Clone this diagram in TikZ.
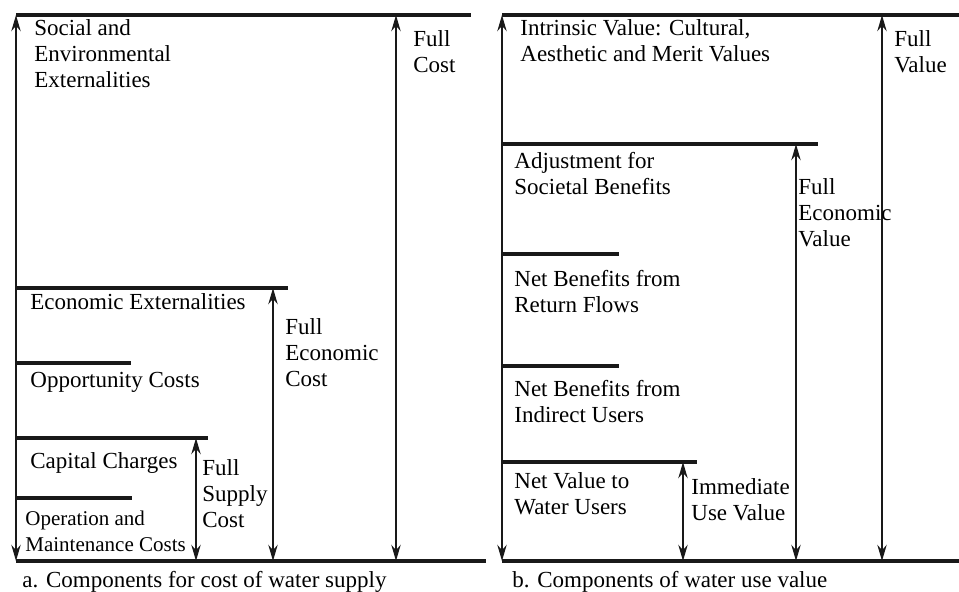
\documentclass[tikz,border=0pt]{standalone}
\usepackage{fontspec}
\setmainfont{Liberation Serif}
\usepackage{tikz}
\usetikzlibrary{arrows.meta, positioning}

\begin{document}
\begin{tikzpicture}[
    x=0.5pt, y=-0.5pt,
    bar/.style={line width=2pt, draw=black!90},
    span/.style={
        {Stealth[length=8pt, width=4.6pt, inset=2.6pt]}-{Stealth[length=8pt, width=4.6pt, inset=2.6pt]},
        line width=1.3pt, draw=black!90
    },
    lbl/.style={
        anchor=north west, inner sep=0pt, align=left,
        font=\fontsize{11.5}{13}\selectfont
    },
    caption/.style={anchor=north west, inner sep=0pt, font=\fontsize{11.5}{13}\selectfont}
]
    \useasboundingbox (0,0) rectangle (959,591);

    % cost of water supply
    \coordinate (c0) at (16,15);   \coordinate (c0e) at (471,15);
    \coordinate (c1) at (16,288);  \coordinate (c1e) at (288,288);
    \coordinate (c2) at (16,363);  \coordinate (c2e) at (131,363);
    \coordinate (c3) at (16,438);  \coordinate (c3e) at (208,438);
    \coordinate (c4) at (16,498);  \coordinate (c4e) at (132,498);
    \coordinate (cb) at (16,561);  \coordinate (cbe) at (486,561);

    \draw[bar] (c0) -- (c0e);
    \draw[bar] (c1) -- (c1e);
    \draw[bar] (c2) -- (c2e);
    \draw[bar] (c3) -- (c3e);
    \draw[bar] (c4) -- (c4e);
    \draw[bar] (cb) -- (cbe);

    \draw[span] (c0) -- (cb);
    \draw[span] (c0 -| 396,0) -- (cb -| 396,0);
    \draw[span] (c1 -| 273,0) -- (cb -| 273,0);
    \draw[span] (c3 -| 196,0) -- (cb -| 196,0);

    \node[lbl] (social) at (34,19) {Social and\\Environmental\\Externalities};
    \node[lbl] (fullcost) at (413,30) {Full\\Cost};
    \node[lbl] (econext) at (30,293) {Economic Externalities};
    \node[lbl] (fullecost) at (285,318) {Full\\Economic\\Cost};
    \node[lbl] (opp) at (30,372) {Opportunity Costs};
    \node[lbl] (capital) at (30,452) {Capital Charges};
    \node[lbl] (fullsupply) at (202,459) {Full\\Supply\\Cost};
    \node[lbl, font=\fontsize{10.5}{13}\selectfont] (om) at (25,511) {Operation and\\Maintenance Costs};
    \node[caption] (capa) at (22,571) {a. Components for cost of water supply};

    % water use value
    \coordinate (v0) at (502,15);  \coordinate (v0e) at (959,15);
    \coordinate (v1) at (502,144); \coordinate (v1e) at (818,144);
    \coordinate (v2) at (502,254); \coordinate (v2e) at (619,254);
    \coordinate (v3) at (502,366); \coordinate (v3e) at (619,366);
    \coordinate (v4) at (502,462); \coordinate (v4e) at (697,462);
    \coordinate (vb) at (502,561); \coordinate (vbe) at (959,561);

    \draw[bar] (v0) -- (v0e);
    \draw[bar] (v1) -- (v1e);
    \draw[bar] (v2) -- (v2e);
    \draw[bar] (v3) -- (v3e);
    \draw[bar] (v4) -- (v4e);
    \draw[bar] (vb) -- (vbe);

    \draw[span] (v0) -- (vb);
    \draw[span] (v0 -| 882,0) -- (vb -| 882,0);
    \draw[span] (v1 -| 796,0) -- (vb -| 796,0);
    \draw[span] (v4 -| 683,0) -- (vb -| 683,0);

    \node[lbl] (intrinsic) at (520,19) {Intrinsic Value: Cultural,\\Aesthetic and Merit Values};
    \node[lbl] (fullval) at (894,30) {Full\\Value};
    \node[lbl] (adjust) at (514,152) {Adjustment for\\Societal Benefits};
    \node[lbl] (fullevalue) at (798,178) {Full\\Economic\\Value};
    \node[lbl] (returns) at (514,270) {Net Benefits from\\Return Flows};
    \node[lbl] (indirect) at (514,380) {Net Benefits from\\Indirect Users};
    \node[lbl] (netval) at (514,472) {Net Value to\\Water Users};
    \node[lbl] (immediate) at (691,478) {Immediate\\Use Value};
    \node[caption] (capb) at (512,571) {b. Components of water use value};
\end{tikzpicture}
\end{document}
